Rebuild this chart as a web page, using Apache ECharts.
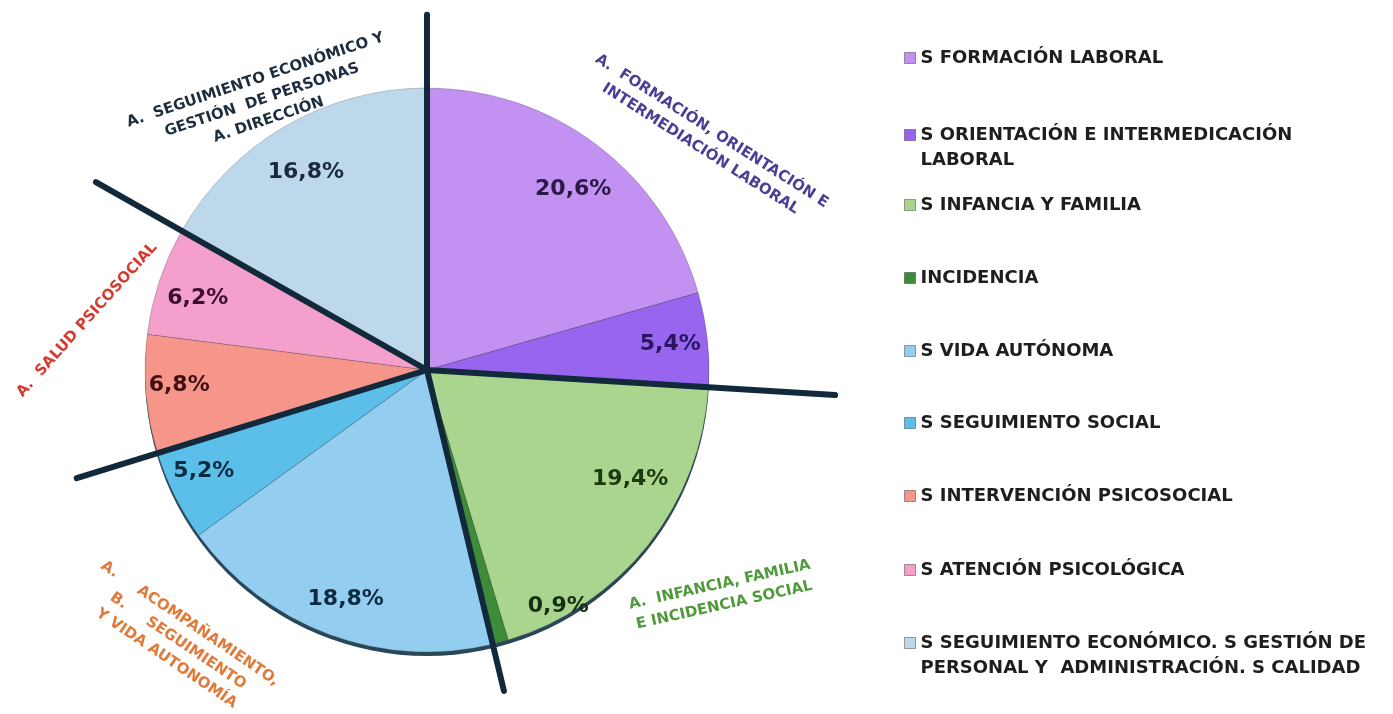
<!DOCTYPE html>
<html><head><meta charset="utf-8">
<script src="https://cdn.jsdelivr.net/npm/echarts@6/dist/echarts.min.js"></script>
<style>html,body{margin:0;padding:0;background:#fff}#c{width:1393px;height:714px}</style>
</head><body><div id="c"></div>
<script>
// ---------- DATA ----------
const categories = [
  'S FORMACIÓN LABORAL',
  'S ORIENTACIÓN E INTERMEDICACIÓN LABORAL',
  'S INFANCIA Y FAMILIA',
  'INCIDENCIA',
  'S VIDA AUTÓNOMA',
  'S SEGUIMIENTO SOCIAL',
  'S INTERVENCIÓN PSICOSOCIAL',
  'S ATENCIÓN PSICOLÓGICA',
  'S SEGUIMIENTO ECONÓMICO. S GESTIÓN DE PERSONAL Y  ADMINISTRACIÓN. S CALIDAD'
];
const values = [20.6, 5.4, 19.4, 0.9, 18.8, 5.2, 6.8, 6.2, 16.8];
const legendLabels = [
  'S FORMACIÓN LABORAL',
  'S ORIENTACIÓN E INTERMEDICACIÓN\nLABORAL',
  'S INFANCIA Y FAMILIA',
  'INCIDENCIA',
  'S VIDA AUTÓNOMA',
  'S SEGUIMIENTO SOCIAL',
  'S INTERVENCIÓN PSICOSOCIAL',
  'S ATENCIÓN PSICOLÓGICA',
  'S SEGUIMIENTO ECONÓMICO. S GESTIÓN DE\nPERSONAL Y  ADMINISTRACIÓN. S CALIDAD'
];
const groupStarts = [0, 2, 4, 6, 8];
const groupTitles = [
  'A.  FORMACIÓN, ORIENTACIÓN E\nINTERMEDIACIÓN LABORAL',
  'A.  INFANCIA, FAMILIA\nE INCIDENCIA SOCIAL',
  'A.     ACOMPAÑAMIENTO,\nB.     SEGUIMIENTO\nY VIDA AUTONOMÍA',
  'A.  SALUD PSICOSOCIAL',
  'A.  SEGUIMIENTO ECONÓMICO Y\nGESTIÓN  DE PERSONAS\nA. DIRECCIÓN'
];

// ---------- STYLE / LAYOUT ----------
const colors = ['#c391f2','#9865ee','#aad58f','#3e8b3a','#93cdef','#5bbfea','#f6968a','#f59fcc','#bcd8ea'];
const labelColors = ['#2a1845','#2a1660','#1c3a12','#15300e','#0e2a40','#0e2a40','#401010','#3a1030','#1a2a3a'];
const labelOffsets = [[0,13],[2,1],[13,-41],[68,2],[3,2],[-6,-7],[-6,-6],[1,5],[1,12]];
const titleColors = ['#4a3f94','#4f9a3a','#e07a3a','#d63a2f','#1d2d3d'];
const titleLayout = [
  {x: 706, y: 140, rot: -32.5},
  {x: 722, y: 595, rot: 12.5},
  {x: 178, y: 641, rot: -34},
  {x: 87,  y: 320, rot: 48},
  {x: 262, y: 100, rot: 18.5}
];
const lineLen = [1.26, 1.45, 1.17, 1.30, 1.35];
const legendIconY = [58, 135, 205, 278, 351, 423, 496, 570, 643];
const CX = 427, CY = 370, R = 282;

const total = values.reduce((a, b) => a + b, 0);
function cumAngle(idx) { let s = 0; for (let i = 0; i < idx; i++) s += values[i]; return s / total * 360; }

const chart = echarts.init(document.getElementById('c'), null, {renderer: 'canvas'});

const pieData = categories.map((n, i) => ({name: n, value: values[i], itemStyle: {color: colors[i]}}));
const labelData = categories.map((n, i) => ({
  name: n, value: values[i], label: {color: labelColors[i], offset: labelOffsets[i]}
}));

const graphics = [];
groupStarts.forEach((gi, k) => {
  const a = cumAngle(gi) * Math.PI / 180;
  const L = R * lineLen[k];
  graphics.push({
    type: 'line', silent: true, z: 100,
    shape: {x1: CX, y1: CY, x2: CX + L * Math.sin(a), y2: CY - L * Math.cos(a)},
    style: {stroke: '#11293a', lineWidth: 6, lineCap: 'round'}
  });
});
groupTitles.forEach((t, k) => {
  const L = titleLayout[k];
  graphics.push({
    type: 'text', silent: true, z: 100,
    x: L.x, y: L.y, rotation: L.rot * Math.PI / 180,
    style: {
      text: t, fill: titleColors[k], font: 'bold 15px "DejaVu Sans"',
      align: 'center', verticalAlign: 'middle', lineHeight: 21
    }
  });
});

const legends = categories.map((n, i) => {
  const two = legendLabels[i].indexOf('\n') >= 0;
  return {
    orient: 'vertical', left: 904, top: legendIconY[i] - (two ? 37.5 : 12.5),
    padding: 0, itemGap: 0, itemWidth: 11, itemHeight: 11, icon: 'rect',
    selectedMode: false,
    data: [{name: n, itemStyle: {color: colors[i], borderColor: 'rgba(0,0,0,0.35)', borderWidth: 1}}],
    formatter: () => (two ? ' \n' : '') + legendLabels[i],
    textStyle: {
      fontFamily: 'DejaVu Sans', fontWeight: 'bold', fontSize: 18, color: '#1e1e1e',
      lineHeight: 25
    }
  };
});

chart.setOption({
  animation: false,
  backgroundColor: '#ffffff',
  legend: legends,
  series: [
    {
      type: 'pie', silent: true, z: 1, center: [CX, CY + 4], radius: R,
      label: {show: false}, labelLine: {show: false},
      data: [{name: '', value: 1, itemStyle: {color: '#2a4758'}}]
    },
    {
      type: 'pie', silent: true, z: 2, center: [CX, CY], radius: R,
      startAngle: 90, clockwise: true, avoidLabelOverlap: false,
      label: {show: false}, labelLine: {show: false},
      itemStyle: {borderColor: 'rgba(60,60,60,0.25)', borderWidth: 1},
      data: pieData
    },
    {
      type: 'pie', silent: true, z: 3, center: [CX, CY], radius: [0, R * 1.7],
      startAngle: 90, clockwise: true, avoidLabelOverlap: false,
      itemStyle: {color: 'rgba(0,0,0,0)'},
      labelLine: {show: false},
      label: {
        show: true, position: 'inside', rotate: 0,
        fontFamily: 'DejaVu Sans', fontWeight: 'bold', fontSize: 22,
        formatter: p => p.value.toFixed(1).replace('.', ',') + '%'
      },
      data: labelData
    }
  ],
  graphic: graphics
});
</script>
</body></html>
